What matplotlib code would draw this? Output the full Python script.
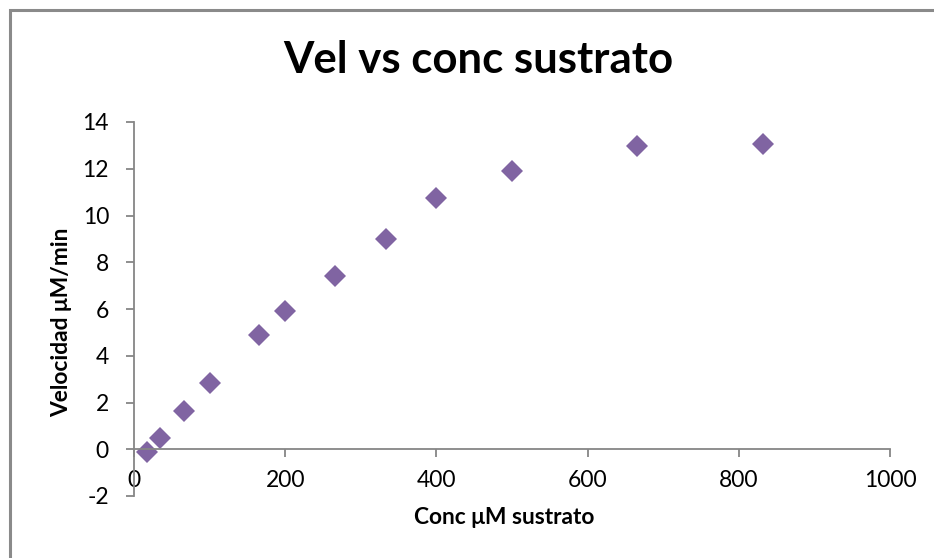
import matplotlib.pyplot as plt
from matplotlib.patches import Rectangle

# datos
conc = [17, 34, 66, 100, 166, 200, 266, 333, 400, 500, 666, 832]
vel = [-0.13, 0.5, 1.62, 2.84, 4.9, 5.93, 7.43, 8.98, 10.75, 11.92, 12.96, 13.08]

x_ticks = [0, 200, 400, 600, 800, 1000]
y_ticks = [-2, 0, 2, 4, 6, 8, 10, 12, 14]

plt.rcParams['font.family'] = ['Lato', 'DejaVu Sans']
plt.rcParams['axes.unicode_minus'] = False

fig = plt.figure(figsize=(9.34, 5.58), dpi=100)
ax = fig.add_axes([134 / 934, 1 - 496 / 558, (890 - 134) / 934, (496 - 122) / 558])

ax.plot(conc, vel, linestyle='none', marker='D', markersize=11.5,
        color='#8064A2', markeredgewidth=0)

ax.set_xlim(0, 1000)
ax.set_ylim(-2, 14)
ax.set_xticks(x_ticks)
ax.set_yticks(y_ticks)

gray = '#868686'
ax.spines['top'].set_visible(False)
ax.spines['right'].set_visible(False)
ax.spines['bottom'].set_position(('data', 0))
ax.spines['bottom'].set_color(gray)
ax.spines['left'].set_color(gray)
ax.spines['bottom'].set_linewidth(1.3)
ax.spines['left'].set_linewidth(1.3)
ax.tick_params(axis='both', direction='out', length=6, width=1.3,
               color=gray, labelsize=16.5, labelcolor='black')
ax.tick_params(axis='x', pad=9)
ax.tick_params(axis='y', pad=12)

fig.text(504 / 934, 1 - 518 / 558, 'Conc μM sustrato', ha='center', va='center',
         fontsize=16.4, fontweight='bold')
fig.text(62 / 934, 1 - 322 / 558, 'Velocidad μM/min', ha='center', va='center',
         rotation=90, fontsize=16.4, fontweight='bold')
fig.text(478 / 934, 1 - 60 / 558, 'Vel vs conc sustrato', ha='center', va='center',
         fontsize=31.5, fontweight='bold')

# marco del area del grafico (solo visible arriba y a la izquierda)
fig.patches.append(Rectangle((9.5 / 934, -0.1), 1.2, 1 - 9.5 / 558 + 0.1,
                             transform=fig.transFigure, fill=False,
                             edgecolor='#8a8a8a', linewidth=2.2))

fig.savefig('out.png', dpi=100)
